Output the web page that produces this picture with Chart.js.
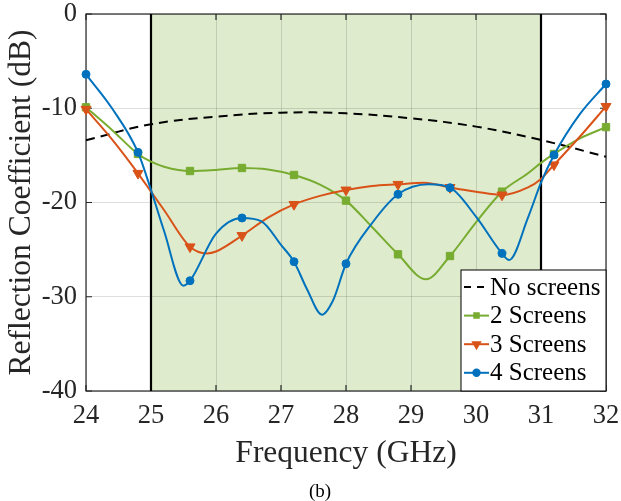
<!DOCTYPE html>
<html>
<head>
<meta charset="utf-8">
<script src="https://cdn.jsdelivr.net/npm/chart.js@4.4.1/dist/chart.umd.min.js"></script>
<style>
html, body { margin: 0; padding: 0; background: #fff; }
#wrap { width: 621px; height: 501px; position: relative; }
</style>
</head>
<body>
<div id="wrap"><canvas id="chart"></canvas></div>
<script>
// measured reflection coefficient vs frequency, 24-32 GHz
const xTicks = [24, 25, 26, 27, 28, 29, 30, 31, 32];
const yTicks = [0, -10, -20, -30, -40];
const bandStart = 25;
const bandEnd = 31;

const legendLabels = ['No screens', '2 Screens', '3 Screens', '4 Screens'];

// measurement points (markers)
const markerFreq = [24, 24.8, 25.6, 26.4, 27.2, 28, 28.8, 29.6, 30.4, 31.2, 32];
const screens2Marks = [-9.9, -14.85, -16.66, -16.34, -17.08, -19.8, -25.5, -25.68, -18.85, -14.85, -12.0];
const screens3Marks = [-10.1, -16.9, -24.7, -23.5, -20.2, -18.67, -18.07, -18.4, -19.2, -16.0, -9.8];
const screens4Marks = [-6.4, -14.68, -28.3, -21.64, -26.28, -26.5, -19.13, -18.43, -25.4, -14.96, -7.43];

// fitted curves through the measurements
const noScreenFreq = [24, 25, 26, 27, 28, 29, 30, 31, 32];
const noScreenCurve = [-13.4, -11.7, -10.9, -10.47, -10.54, -11.07, -11.95, -13.37, -15.14];

const screens2Freq = [24, 24.4, 24.8, 25, 25.2, 25.6, 26, 26.4, 26.8, 27.2, 27.6, 28, 28.4, 28.8, 29.23, 29.6, 30, 30.4, 30.8, 31, 31.2, 31.6, 32];
const screens2Curve = [-9.9, -12.3, -14.85, -15.67, -16.2, -16.66, -16.55, -16.34, -16.5, -17.08, -18.1, -19.8, -22.6, -25.5, -28.15, -25.68, -22.1, -18.85, -16.9, -15.8, -14.85, -13.2, -12.0];

const screens3Freq = [24, 24.4, 24.8, 25, 25.2, 25.6, 25.86, 26, 26.4, 26.8, 27.2, 27.6, 28, 28.4, 28.8, 29.2, 29.6, 30, 30.4, 30.8, 31, 31.2, 31.6, 32];
const screens3Curve = [-10.1, -13.3, -16.9, -18.85, -20.8, -24.7, -25.4, -25.2, -23.5, -21.6, -20.2, -19.3, -18.67, -18.25, -18.07, -17.9, -18.4, -18.85, -19.2, -18.4, -17.5, -16.0, -13.0, -9.8];

const screens4Freq = [24, 24.4, 24.8, 25, 25.2, 25.5, 25.6, 26, 26.4, 26.7, 27, 27.2, 27.4, 27.63, 27.8, 28, 28.4, 28.8, 29.27, 29.6, 30, 30.4, 30.51, 30.8, 31, 31.2, 31.6, 32];
const screens4Curve = [-6.4, -10.0, -14.68, -18.67, -23.0, -28.83, -28.3, -23.3, -21.64, -22.0, -24.5, -26.28, -29.2, -31.9, -30.4, -26.5, -22.2, -19.13, -18.07, -18.43, -21.5, -25.4, -26.1, -21.6, -17.9, -14.96, -10.6, -7.43];

const BLACK = '#000000';
const GREEN = '#77AC30';
const ORANGE = '#D95319';
const BLUE = '#0072BD';
const AXIS = '#262626';
const SERIF = '"Liberation Serif", "Times New Roman", serif';

const pts = (xs, ys) => xs.map((x, i) => ({ x, y: ys[i] }));

function curve(xs, ys, color, order) {
    return {
        data: pts(xs, ys),
        borderColor: color,
        borderWidth: 2,
        pointRadius: 0,
        cubicInterpolationMode: 'monotone',
        clip: false,
        order,
    };
}

function marks(ys, color, style, radius, order) {
    return {
        data: pts(markerFreq, ys),
        showLine: false,
        pointStyle: style,
        pointRadius: radius,
        pointRotation: style === 'triangle' ? 180 : 0,
        backgroundColor: color,
        borderColor: color,
        borderWidth: 1,
        clip: false,
        order,
    };
}

// shaded band, box, inside tick marks, labels and legend
const decor = {
    id: 'decor',
    beforeDraw(chart) {
        const { ctx, chartArea: a, scales: { x } } = chart;
        ctx.save();
        ctx.fillStyle = 'rgba(119,172,48,0.24)';
        const x0 = x.getPixelForValue(bandStart), x1 = x.getPixelForValue(bandEnd);
        ctx.fillRect(x0, a.top, x1 - x0, a.bottom - a.top);
        ctx.restore();
    },
    beforeDatasetsDraw(chart) {
        const { ctx, chartArea: a, scales: { x, y } } = chart;
        ctx.save();
        // axes box
        ctx.strokeStyle = AXIS;
        ctx.lineWidth = 1.2;
        ctx.strokeRect(a.left, a.top, a.right - a.left, a.bottom - a.top);
        // ticks pointing inwards
        const tl = 6;
        ctx.beginPath();
        xTicks.forEach(v => {
            const px = x.getPixelForValue(v);
            ctx.moveTo(px, a.bottom); ctx.lineTo(px, a.bottom - tl);
            ctx.moveTo(px, a.top); ctx.lineTo(px, a.top + tl);
        });
        yTicks.forEach(v => {
            const py = y.getPixelForValue(v);
            ctx.moveTo(a.left, py); ctx.lineTo(a.left + tl, py);
            ctx.moveTo(a.right, py); ctx.lineTo(a.right - tl, py);
        });
        ctx.stroke();
        // band edges
        ctx.strokeStyle = BLACK;
        ctx.lineWidth = 2.2;
        ctx.beginPath();
        [bandStart, bandEnd].forEach(v => {
            const px = x.getPixelForValue(v);
            ctx.moveTo(px, a.top); ctx.lineTo(px, a.bottom);
        });
        ctx.stroke();
        ctx.restore();
    },
    afterDraw(chart) {
        const { ctx, chartArea: a } = chart;
        ctx.save();
        ctx.fillStyle = AXIS;
        ctx.textAlign = 'center';
        ctx.textBaseline = 'middle';
        ctx.font = `31.5px ${SERIF}`;
        ctx.fillText('Frequency (GHz)', (a.left + a.right) / 2, 454);
        ctx.save();
        ctx.translate(22, (a.top + a.bottom) / 2);
        ctx.rotate(-Math.PI / 2);
        ctx.fillText('Reflection Coefficient (dB)', 0, 0);
        ctx.restore();
        ctx.fillStyle = BLACK;
        ctx.font = `19px ${SERIF}`;
        ctx.fillText('(b)', 320, 492);

        // legend box
        const bx = 461, by = 270, bw = a.right - 461, bh = a.bottom - 270;
        ctx.fillStyle = '#ffffff';
        ctx.fillRect(bx, by, bw, bh);
        ctx.strokeStyle = BLACK;
        ctx.lineWidth = 1;
        ctx.strokeRect(bx, by, bw, bh);
        const colors = [BLACK, GREEN, ORANGE, BLUE];
        const styles = [null, 'rect', 'triangle', 'circle'];
        ctx.font = `25px ${SERIF}`;
        ctx.textAlign = 'left';
        legendLabels.forEach((label, i) => {
            const cy = 287 + i * 28.6;
            ctx.strokeStyle = colors[i];
            ctx.lineWidth = 2;
            ctx.setLineDash(i === 0 ? [7, 6] : []);
            ctx.beginPath();
            ctx.moveTo(464, cy); ctx.lineTo(489, cy);
            ctx.stroke();
            ctx.setLineDash([]);
            if (styles[i]) {
                ctx.fillStyle = colors[i];
                Chart.helpers.drawPoint(ctx, {
                    pointStyle: styles[i],
                    radius: styles[i] === 'triangle' ? 4 : 3.2,
                    rotation: styles[i] === 'triangle' ? 180 : 0,
                    borderWidth: 1,
                }, 476.5, cy);
            }
            ctx.fillStyle = BLACK;
            ctx.fillText(label, 490, cy + 1);
        });
        ctx.restore();
    },
};

new Chart(document.getElementById('chart'), {
    type: 'line',
    data: {
        datasets: [
            { ...curve(noScreenFreq, noScreenCurve, BLACK, 8), borderDash: [9, 6], tension: 0.4, cubicInterpolationMode: 'default' },
            curve(screens2Freq, screens2Curve, GREEN, 7),
            marks(screens2Marks, GREEN, 'rect', 5.2, 6),
            curve(screens3Freq, screens3Curve, ORANGE, 5),
            marks(screens3Marks, ORANGE, 'triangle', 5.8, 4),
            curve(screens4Freq, screens4Curve, BLUE, 3),
            marks(screens4Marks, BLUE, 'circle', 4, 2),
        ],
    },
    options: {
        responsive: true,
        maintainAspectRatio: false,
        animation: false,
        devicePixelRatio: 1,
        layout: { padding: { top: 14, right: 15, left: 0, bottom: 0 } },
        plugins: {
            legend: { display: false },
            tooltip: { enabled: false },
        },
        scales: {
            x: {
                type: 'linear',
                min: 24,
                max: 32,
                afterBuildTicks: s => { s.ticks = xTicks.map(v => ({ value: v })); },
                afterFit: s => { s.height = 110; s.paddingLeft = 0; s.paddingRight = 0; },
                ticks: {
                    color: AXIS,
                    padding: 9,
                    maxRotation: 0,
                    font: { family: SERIF, size: 26.5 },
                    callback: v => String(v),
                },
                grid: { color: 'rgba(0,0,0,0.13)', lineWidth: 1, drawTicks: false },
                border: { display: false },
            },
            y: {
                min: -40,
                max: 0,
                afterBuildTicks: s => { s.ticks = yTicks.map(v => ({ value: v })); },
                afterFit: s => { s.width = 86; s.paddingTop = 0; s.paddingBottom = 0; },
                ticks: {
                    color: AXIS,
                    padding: 9,
                    font: { family: SERIF, size: 26.5 },
                    callback: v => String(v),
                },
                grid: { color: 'rgba(0,0,0,0.13)', lineWidth: 1, drawTicks: false },
                border: { display: false },
            },
        },
    },
    plugins: [decor],
});
</script>
</body>
</html>
